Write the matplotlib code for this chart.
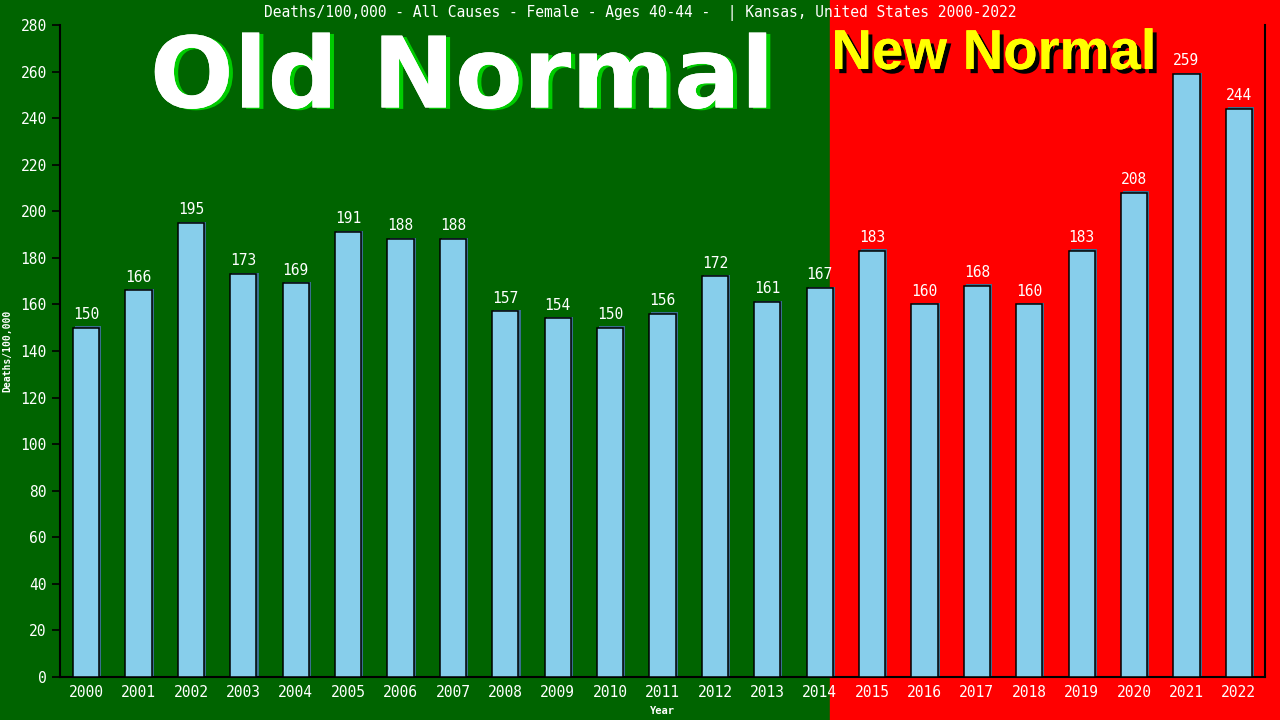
import numpy as np
import matplotlib
matplotlib.use("Agg")
import matplotlib.pyplot as plt
import matplotlib.patches as mpatches
import matplotlib.patheffects as pe

years = [str(y) for y in range(2000, 2023)]
deaths = [150, 166, 195, 173, 169, 191, 188, 188, 157, 154, 150, 156,
          172, 161, 167, 183, 160, 168, 160, 183, 208, 259, 244]
yticks = list(range(0, 281, 20))

title = "Deaths/100,000 - All Causes - Female - Ages 40-44 -  | Kansas, United States 2000-2022"

green = "#006400"
red = "#ff0000"
mono = "DejaVu Sans Mono"

fig = plt.figure(figsize=(12.8, 7.2), dpi=100)
fig.patch.set_facecolor(green)
# rode achtergrond rechts
fig.patches.append(mpatches.Rectangle((830 / 1280, 0), 1 - 830 / 1280, 1,
                                      transform=fig.transFigure, color=red, zorder=-10))

ax = fig.add_axes([60 / 1280, 43 / 720, 1205 / 1280, 652 / 720])
ax.set_facecolor("none")

x = np.arange(len(years))
# schaduw van de balken
ax.bar(x + 0.04, deaths, width=0.5, bottom=0.6, color="#3a6f8f", zorder=2)
ax.bar(x, deaths, width=0.5, color="#87ceeb", edgecolor="black", linewidth=1.1, zorder=3)

for xi, v in zip(x, deaths):
    ax.text(xi, v + 2.5, str(v), ha="center", va="bottom", color="white",
            fontsize=10.5, family=mono, zorder=4)

ax.set_xlim(-0.5, len(years) - 0.5)
ax.set_ylim(0, 280)
ax.set_yticks(yticks)
ax.set_xticks(x)
ax.set_xticklabels(years)
ax.tick_params(axis="y", colors="black", labelcolor="white", labelsize=10.5, length=6, width=1.2)
ax.tick_params(axis="x", length=0, labelcolor="white", labelsize=10.5, pad=6)
for lbl in ax.get_xticklabels() + ax.get_yticklabels():
    lbl.set_family(mono)

for side in ["left", "bottom", "right"]:
    ax.spines[side].set_color("black")
    ax.spines[side].set_linewidth(1.5)
ax.spines["top"].set_visible(False)

ax.set_ylabel("Deaths/100,000", color="white", fontsize=7, family=mono, fontweight="bold", labelpad=6)
ax.set_xlabel("Year", color="white", fontsize=7.5, family=mono, fontweight="bold", labelpad=4)

fig.text(0.5, 1 - 13 / 720, title, ha="center", va="center", color="white",
         fontsize=10.5, family=mono)

fig.text(462 / 1280, 1 - 80 / 720, "Old Normal", ha="center", va="center",
         color="white", fontsize=71, fontweight="bold", family="DejaVu Sans", zorder=5,
         path_effects=[pe.withSimplePatchShadow(offset=(3, -1), shadow_rgbFace="#00cc00", alpha=1),
                       pe.Normal()])

fig.text(994 / 1280, 1 - 55 / 720, "New Normal", ha="center", va="center",
         color="#ffff00", fontsize=40.5, fontweight="bold", family="Liberation Sans", zorder=5,
         path_effects=[pe.withSimplePatchShadow(offset=(3, -3), shadow_rgbFace="black", alpha=1),
                       pe.Normal()])

fig.savefig("out.png", dpi=100, facecolor=fig.get_facecolor())
plt.close(fig)
